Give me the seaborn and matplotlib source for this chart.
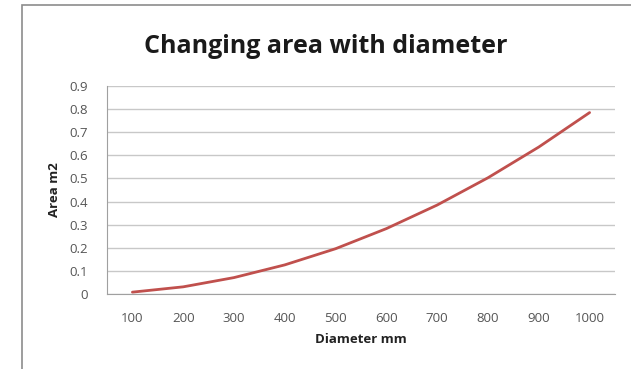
import matplotlib
matplotlib.use("Agg")
import matplotlib.pyplot as plt
import seaborn as sns
import pandas as pd
from matplotlib.patches import Rectangle

# data
diameter_mm = [100, 200, 300, 400, 500, 600, 700, 800, 900, 1000]
area_m2 = [0.008, 0.031, 0.071, 0.126, 0.196, 0.283, 0.385, 0.503, 0.636, 0.785]
y_ticks = [0, 0.1, 0.2, 0.3, 0.4, 0.5, 0.6, 0.7, 0.8, 0.9]
y_tick_labels = ["0", "0.1", "0.2", "0.3", "0.4", "0.5", "0.6", "0.7", "0.8", "0.9"]

sns.set_style("white")
plt.rcParams['font.family'] = ['Open Sans', 'DejaVu Sans']

df = pd.DataFrame({"d": diameter_mm, "a": area_m2})

fig = plt.figure(figsize=(6.31, 3.69), dpi=100)
ax = fig.add_axes([107 / 631, 1 - 294 / 369, (615 - 107) / 631, (294 - 86) / 369])

# outer chart frame (Excel style), runs off the right/bottom edges
fig.patches.append(Rectangle((22 / 631, -0.1), 1.2, 1 - 5 / 369 + 0.1,
                             transform=fig.transFigure, fill=False,
                             edgecolor="#8c8c8c", linewidth=1.2))

sns.lineplot(data=df, x="d", y="a", ax=ax, color="#c0504d", linewidth=2)

ax.set_xlim(50, 1050)
ax.set_ylim(0, 0.9)
ax.set_xticks(diameter_mm)
ax.set_xticklabels([str(v) for v in diameter_mm], fontsize=9.5, color="#555555")
ax.set_yticks(y_ticks)
ax.set_yticklabels(y_tick_labels, fontsize=9.5, color="#555555")
ax.yaxis.grid(True, color="#c8c8c8", linewidth=1)
ax.xaxis.grid(False)
ax.tick_params(axis="x", length=0, pad=13)
ax.tick_params(axis="y", length=0, pad=14)

for side in ["top", "right"]:
    ax.spines[side].set_visible(False)
ax.spines["left"].set_color("#a0a0a0")
ax.spines["bottom"].set_color("#a0a0a0")

ax.set_xlabel("Diameter mm", fontsize=9.5, fontweight="bold", labelpad=6, color="#222222")
ax.set_ylabel("Area m2", fontsize=9.5, fontweight="bold", labelpad=6, color="#222222")

fig.text(326 / 631, 1 - 53 / 369, "Changing area with diameter",
         ha="center", va="baseline", fontsize=18, fontweight="bold", color="#1a1a1a")

fig.savefig("out.png", dpi=100, facecolor="white")
